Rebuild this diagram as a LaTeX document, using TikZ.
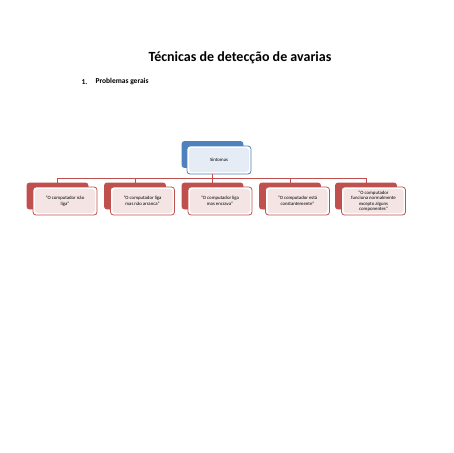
\documentclass[tikz,border=0pt]{standalone}
\usepackage{fontspec}
\setmainfont{Carlito}
\usepackage{tikz}

\definecolor{symred}{HTML}{C0504D}
\definecolor{sympink}{HTML}{F4E4E4}
\definecolor{symblue}{HTML}{4F81BD}
\definecolor{symice}{HTML}{E6ECF5}

\tikzset{
  backbox/.style={draw=#1, fill=#1, rounded corners=2.5pt, line width=0.8pt,
    minimum width=61pt, minimum height=26pt, inner sep=0pt},
  frontbox/.style={draw=#1, fill=white, rounded corners=3pt, line width=0.8pt,
    minimum width=64pt, minimum height=28pt, inner sep=1pt, align=center,
    font=\fontsize{4.8}{5.5}\selectfont},
  innerfill/.style={path picture={\fill[#1]
    ([shift={(2pt,-2pt)}]path picture bounding box.north west) rectangle
    ([shift={(-2pt,2pt)}]path picture bounding box.south east);}},
  link/.style={draw=symred, line width=0.7pt}
}

\begin{document}
\begin{tikzpicture}[x=1pt, y=-1pt]
            \useasboundingbox (0,0) rectangle (453,453);

            % Title and heading
            \node[font=\bfseries\fontsize{14}{16}\selectfont] (title) at (240,58) {Técnicas de detecção de avarias};
            \node[font=\bfseries\fontsize{7.5}{9}\selectfont, anchor=west] (num) at (78,82) {1.};
            \node[font=\bfseries\fontsize{7.5}{9}\selectfont, anchor=west] (head) at (92,82) {Problemas gerais};

            % Top box
            \node[backbox=symblue] (topback) at (212.5,154.5) {};
            \node[frontbox=symblue, innerfill=symice] (topfront) at (219,160) {Sintomas};

            % Bottom boxes, back layer
            \node[backbox=symred] (back1) at (57.5,196) {};
            \node[backbox=symred] (back2) at (135,196) {};
            \node[backbox=symred] (back3) at (212.5,196) {};
            \node[backbox=symred] (back4) at (290,196) {};
            \node[backbox=symred] (back5) at (366,196) {};

            % Bottom boxes, front layer
            \node[frontbox=symred, innerfill=sympink] (sym1) at (65,201) {“O computador não\\liga”};
            \node[frontbox=symred, innerfill=sympink] (sym2) at (142.5,201) {“O computador liga\\mas não arranca”};
            \node[frontbox=symred, innerfill=sympink] (sym3) at (220,201) {“O computador liga\\mas encrava”};
            \node[frontbox=symred, innerfill=sympink] (sym4) at (297.5,201) {“O computador está\\constantemente”};
            \node[frontbox=symred, innerfill=sympink] (sym5) at (373.5,201) {“O computador\\funciona normalmente\\excepto alguns\\componentes”};

            % Connectors
            \coordinate (bar) at (212.5,178);
            \draw[link] (topback |- topfront.south) |- (back1 |- bar) -- (back1.north);
            \draw[link] (topback |- topfront.south) |- (back2 |- bar) -- (back2.north);
            \draw[link] (topback |- topfront.south) -- (back3.north);
            \draw[link] (topback |- topfront.south) |- (back4 |- bar) -- (back4.north);
            \draw[link] (topback |- topfront.south) |- (back5 |- bar) -- (back5.north);
        \end{tikzpicture}
\end{document}
